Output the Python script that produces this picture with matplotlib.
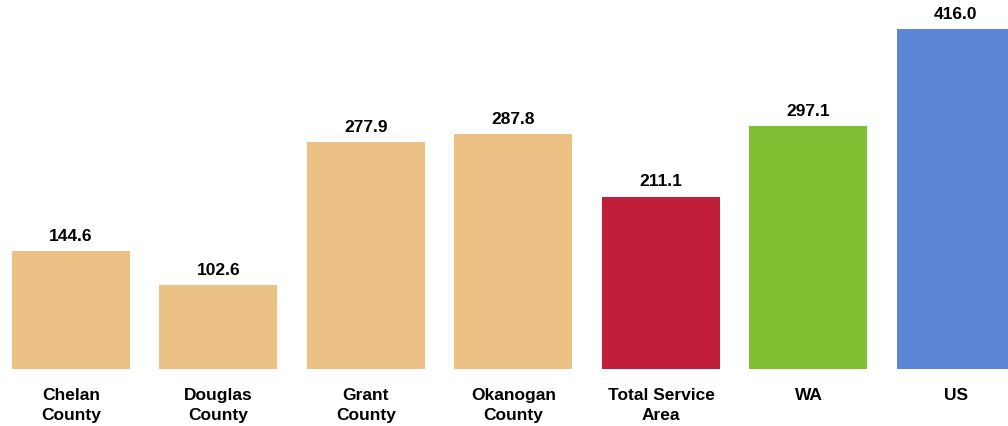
import matplotlib
matplotlib.use('Agg')
import matplotlib.pyplot as plt
from matplotlib import font_manager

categories = ['Chelan\nCounty', 'Douglas\nCounty', 'Grant\nCounty', 'Okanogan\nCounty',
              'Total Service\nArea', 'WA', 'US']
values = [144.6, 102.6, 277.9, 287.8, 211.1, 297.1, 416.0]
colors = ['#ECC185', '#ECC185', '#ECC185', '#ECC185', '#C01E3B', '#80BF32', '#5B86D7']

names = {f.name for f in font_manager.fontManager.ttflist}
fam = ['Liberation Sans Narrow', 'Liberation Sans', 'DejaVu Sans']
fam = [f for f in fam if f in names] or ['DejaVu Sans']
plt.rcParams['font.family'] = fam

fig = plt.figure(figsize=(10.08, 4.27), dpi=100)
ax = fig.add_axes([0, 1 - 370 / 427, 1, 370 / 427])

x = range(len(values))
ax.bar(x, values, width=0.8, color=colors)
for i, v in enumerate(values):
    ax.text(i, v + 10, f'{v:.1f}', ha='center', va='bottom', fontsize=12.5, fontweight='bold')

ax.set_xlim(-0.481, 6.353)
ax.set_ylim(0, 453)
ax.set_xticks(list(x))
ax.set_xticklabels(categories, fontsize=12.5, fontweight='bold', linespacing=1.4)
ax.tick_params(axis='x', length=0, pad=13)
ax.set_yticks([])
for s in ax.spines.values():
    s.set_visible(False)

fig.savefig('out.png', dpi=100)
